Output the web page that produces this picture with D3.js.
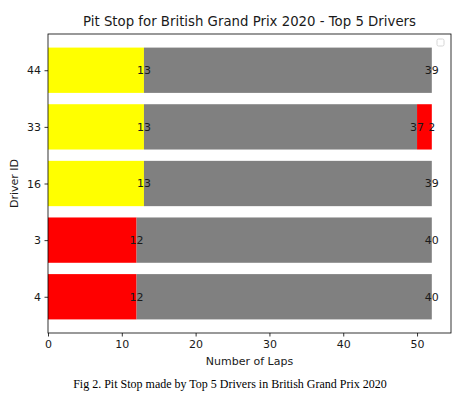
<!DOCTYPE html>
<html>
<head>
<meta charset="utf-8">
<script src="https://cdn.jsdelivr.net/npm/d3@7"></script>
<style>
  body { margin: 0; background: #fff; }
  text { font-family: "DejaVu Sans", sans-serif; }
</style>
</head>
<body>
<div id="chart"></div>
<script>
// Data, bottom to top
const drivers = ["4", "3", "16", "33", "44"];
const stint1Laps = [12, 12, 13, 13, 13];
const stint2Laps = [40, 40, 39, 37, 39];
const stint3Laps = [0, 0, 0, 2, 0];
const stint1Tyre = ["Soft", "Soft", "Medium", "Medium", "Medium"];
const stint2Tyre = ["Hard", "Hard", "Hard", "Hard", "Hard"];
const stint3Tyre = ["Soft", "Soft", "Soft", "Soft", "Soft"];
const xTicks = [0, 10, 20, 30, 40, 50];

const tyreColor = d3.scaleOrdinal()
    .domain(["Soft", "Medium", "Hard"])
    .range(["#ff0000", "#ffff00", "#808080"]);

const W = 460, H = 420;
const margin = { top: 34, right: 9, bottom: 87, left: 48 },
    width = W - margin.left - margin.right,
    height = H - margin.top - margin.bottom;

const svg = d3.select("#chart")
    .append("svg")
    .attr("width", W)
    .attr("height", H);

const g = svg.append("g")
    .attr("transform", `translate(${margin.left},${margin.top})`);

// build segments
const segments = [];
drivers.forEach((d, i) => {
    const stints = [
        [stint1Laps[i], stint1Tyre[i]],
        [stint2Laps[i], stint2Tyre[i]],
        [stint3Laps[i], stint3Tyre[i]]
    ];
    let start = 0;
    stints.forEach(([laps, tyre]) => {
        if (laps > 0) {
            segments.push({ driver: d, x0: start, x1: start + laps, laps, tyre });
            start += laps;
        }
    });
});

const maxLaps = d3.max(segments, s => s.x1);

// matplotlib style margins (5%)
const x = d3.scaleLinear()
    .domain([0, maxLaps * 1.05])
    .range([0, width]);

const yPos = d3.scaleLinear()
    .domain([-0.64, drivers.length - 1 + 0.64])
    .range([height, 0]);
const barH = yPos(0) - yPos(0.8);

g.selectAll("rect.seg")
    .data(segments)
    .join("rect")
    .attr("class", "seg")
    .attr("x", s => x(s.x0))
    .attr("y", s => yPos(drivers.indexOf(s.driver)) - barH / 2)
    .attr("width", s => x(s.x1) - x(s.x0))
    .attr("height", barH)
    .attr("fill", s => tyreColor(s.tyre));

g.selectAll("text.lbl")
    .data(segments)
    .join("text")
    .attr("class", "lbl")
    .attr("x", s => x(s.x1))
    .attr("y", s => yPos(drivers.indexOf(s.driver)))
    .attr("dy", "0.35em")
    .attr("text-anchor", "middle")
    .style("font-size", "11px")
    .attr("fill", "#1a1a1a")
    .text(s => s.laps);

// axes
const xAxis = g.append("g")
    .attr("transform", `translate(0,${height})`)
    .call(d3.axisBottom(x).tickValues(xTicks).tickSize(3.5).tickPadding(3.5));

const yAxis = g.append("g")
    .call(d3.axisLeft(yPos)
        .tickValues(drivers.map((d, i) => i))
        .tickFormat(i => drivers[i])
        .tickSize(3.5).tickPadding(3.5));

[xAxis, yAxis].forEach(a => {
    a.select(".domain").remove();
    a.selectAll("text").style("font-size", "11px").style("font-family", "DejaVu Sans").attr("fill", "#1a1a1a");
    a.selectAll("line").attr("stroke", "#000").attr("stroke-width", 0.8);
});

// frame
g.append("rect")
    .attr("width", width)
    .attr("height", height)
    .attr("fill", "none")
    .attr("stroke", "#000")
    .attr("stroke-width", 0.8);

// empty legend
g.append("rect")
    .attr("x", width - 14)
    .attr("y", 5)
    .attr("width", 7)
    .attr("height", 7)
    .attr("rx", 1.5)
    .attr("fill", "#fff")
    .attr("stroke", "#ccc")
    .attr("stroke-width", 0.8);

// titles
svg.append("text")
    .attr("x", margin.left + width / 2)
    .attr("y", 26)
    .attr("text-anchor", "middle")
    .style("font-size", "13.3px")
    .attr("fill", "#1a1a1a")
    .text("Pit Stop for British Grand Prix 2020 - Top 5 Drivers");

svg.append("text")
    .attr("x", margin.left + width / 2)
    .attr("y", 365)
    .attr("text-anchor", "middle")
    .style("font-size", "11px")
    .attr("fill", "#1a1a1a")
    .text("Number of Laps");

svg.append("text")
    .attr("transform", `translate(18,${margin.top + height / 2}) rotate(-90)`)
    .attr("text-anchor", "middle")
    .style("font-size", "11px")
    .attr("fill", "#1a1a1a")
    .text("Driver ID");

svg.append("text")
    .attr("x", 230)
    .attr("y", 388)
    .attr("text-anchor", "middle")
    .style("font-family", "Liberation Serif, serif")
    .style("font-size", "12px")
    .text("Fig 2. Pit Stop made by Top 5 Drivers in British Grand Prix 2020");
</script>
</body>
</html>
